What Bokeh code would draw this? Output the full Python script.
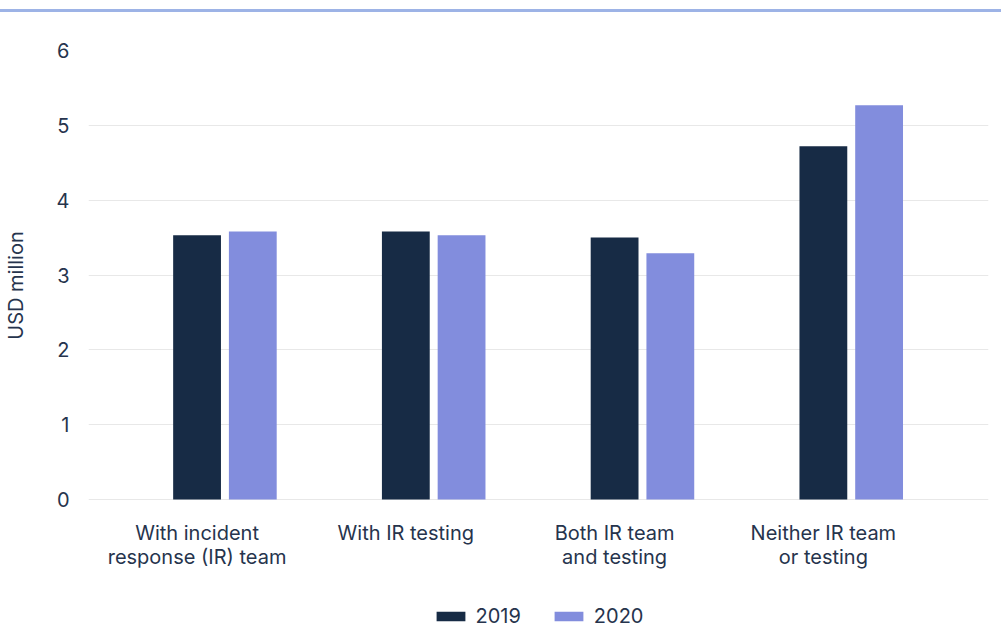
from bokeh.plotting import figure
from bokeh.models import ColumnDataSource, Range1d, FixedTicker, Legend, LegendItem, Div
from bokeh.layouts import column
from bokeh.embed import file_html
from bokeh.resources import INLINE

categories = ["With incident\nresponse (IR) team", "With IR testing",
              "Both IR team\nand testing", "Neither IR team\nor testing"]
v2019 = [3.53, 3.58, 3.50, 4.72]
v2020 = [3.58, 3.53, 3.29, 5.27]
y_ticks = [0, 1, 2, 3, 4, 5, 6]
series_names = ["2019", "2020"]

C19 = "#172b45"
C20 = "#828ddd"
TXT = "#26344d"
FONT = "Inter"
FS = "20px"

idx = list(range(len(categories)))
bar_w = 0.229
off = 0.267

src = ColumnDataSource(dict(
    x19=[i for i in idx],
    x20=[i + off for i in idx],
    v19=v2019,
    v20=v2020,
))

p = figure(width=1001, height=590, output_backend="svg", toolbar_location=None,
           x_range=Range1d(-0.52, 3.791), y_range=Range1d(-0.28, 6.0),
           min_border_left=84, min_border_right=13, min_border_top=38,
           min_border_bottom=82)
p.outline_line_color = None
p.background_fill_color = "white"
p.border_fill_color = "white"

r19 = p.vbar(x="x19", top="v19", bottom=0, width=bar_w, source=src, fill_color=C19, line_color=None)
r20 = p.vbar(x="x20", top="v20", bottom=0, width=bar_w, source=src, fill_color=C20, line_color=None)

# axes
p.xaxis.ticker = FixedTicker(ticks=idx)
p.xaxis.major_label_overrides = {i: c for i, c in zip(idx, categories)}
p.yaxis.ticker = FixedTicker(ticks=y_ticks)
for ax in (p.xaxis, p.yaxis):
    ax.axis_line_color = None
    ax.major_tick_line_color = None
    ax.minor_tick_line_color = None
    ax.major_tick_out = 0
    ax.major_tick_in = 0
    ax.major_label_text_font = FONT
    ax.major_label_text_font_size = FS
    ax.major_label_text_color = TXT
p.xaxis.major_label_standoff = 0
p.xaxis.major_label_text_line_height = 1.0
p.yaxis.major_label_standoff = 19
p.yaxis.axis_label = "USD million"
p.yaxis.axis_label_text_font = FONT
p.yaxis.axis_label_text_font_size = "20px"
p.yaxis.axis_label_text_font_style = "normal"
p.yaxis.axis_label_text_color = TXT
p.yaxis.axis_label_standoff = 26

p.xgrid.grid_line_color = None
p.ygrid.grid_line_color = "#e8e8e8"
p.ygrid.grid_line_width = 1

# legend in its own strip, with swatch renderers of the same styles (bars kept off-view)
lg = figure(width=1001, height=28, output_backend="svg", toolbar_location=None,
            x_range=Range1d(0, 1), y_range=Range1d(100, 101),
            min_border_left=84, min_border_right=13, min_border_top=0, min_border_bottom=0)
lg.outline_line_color = None
lg.axis.visible = False
lg.grid.grid_line_color = None
s19 = lg.vbar(x="x19", top="v19", width=0.1, source=src, fill_color=C19, line_color=None)
s20 = lg.vbar(x="x20", top="v20", width=0.1, source=src, fill_color=C20, line_color=None)
legend = Legend(items=[LegendItem(label=series_names[0], renderers=[s19]),
                       LegendItem(label=series_names[1], renderers=[s20])],
                orientation="horizontal", location="center",
                glyph_width=36, glyph_height=12, label_standoff=7, spacing=30,
                label_text_font=FONT, label_text_font_size=FS, label_text_color=TXT,
                border_line_color=None, background_fill_alpha=0,
                margin=0, padding=0)
lg.add_layout(legend)

topline = Div(width=1001, height=3, margin=(9, 0, 0, 0),
              styles={"background-color": "#9db3e6"})

layout = column(topline, p, lg, spacing=0)

open("out.html", "w").write(file_html(layout, INLINE))
